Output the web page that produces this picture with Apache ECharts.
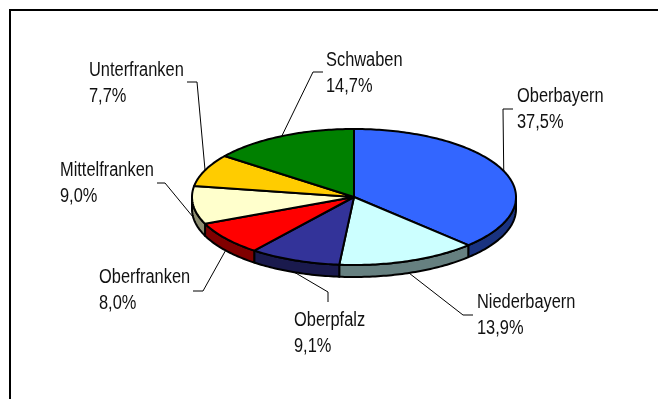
<!DOCTYPE html>
<html>
<head>
<meta charset="utf-8">
<script src="https://cdn.jsdelivr.net/npm/echarts@6/dist/echarts.min.js"></script>
<style>
  html, body { margin: 0; padding: 0; background: #ffffff; }
  #chart { width: 658px; height: 399px; }
</style>
</head>
<body>
<div id="chart"></div>
<script>
// Anteile der Regierungsbezirke (im Uhrzeigersinn ab 12 Uhr)
const regions = ['Oberbayern', 'Niederbayern', 'Oberpfalz', 'Oberfranken', 'Mittelfranken', 'Unterfranken', 'Schwaben'];
const shares = [37.5, 13.9, 9.1, 8.0, 9.0, 7.7, 14.7];
const topColors = ['#3366FF', '#CCFFFF', '#333399', '#FF0000', '#FFFFCC', '#FFCC00', '#008000'];
const sideColors = ['#1A3380', '#668080', '#1A1A4D', '#800000', '#8C8C70', '#806600', '#004000'];

// Beschriftung: linke Kante, Mitte der ersten Zeile
const labelPos = [[517, 96], [477, 302], [294, 320], [99, 277], [60, 170], [89, 70], [326, 60]];
// Führungslinien: Knickpunkt und Endpunkt
const leaderPts = [
  [[503, 109], [513, 109]],
  [[463, 315], [473, 315]],
  [[328, 292], [328, 302]],
  [[203, 291], [193, 291]],
  [[165, 183], [157, 183]],
  [[197, 82], [187, 82]],
  [[313, 72], [323, 72]]
];

// Geometrie der geneigten Torte
const CX = 354, CY = 197, RX = 162, RY = 68, DEPTH = 12;
// schmale Schrift: Liberation Sans horizontal gestaucht
const FONT = '20px "Liberation Sans", Arial, sans-serif';
const NARROW = 0.82;

const total = shares.reduce((a, b) => a + b, 0);
const startAngles = [];
let acc = 0;
shares.forEach(v => { startAngles.push(acc / total * 360); acc += v; });

function edge(deg, dy) {
  const r = deg * Math.PI / 180;
  return [CX + RX * Math.sin(r), CY - RY * Math.cos(r) + (dy || 0)];
}
function arc(a0, a1, dy) {
  const pts = [];
  const n = Math.max(2, Math.ceil(Math.abs(a1 - a0)));
  for (let k = 0; k <= n; k++) pts.push(edge(a0 + (a1 - a0) * k / n, dy));
  return pts;
}
function pct(v) { return v.toFixed(1).replace('.', ',') + '%'; }

const seriesData = shares.map((v, i) => ({ name: regions[i], value: v }));

function renderSide(params, api) {
  const i = params.dataIndex;
  const a0 = startAngles[i];
  const a1 = a0 + api.value(0) / total * 360;
  const s = Math.max(a0, 90), e = Math.min(a1, 270);
  if (e <= s) return null;
  const pts = arc(s, e, 0).concat(arc(e, s, DEPTH));
  return {
    type: 'polygon',
    shape: { points: pts },
    style: { fill: sideColors[i], stroke: '#000', lineWidth: 2, lineJoin: 'round' }
  };
}

function renderTop(params, api) {
  const i = params.dataIndex;
  const v = api.value(0);
  const a0 = startAngles[i];
  const a1 = a0 + v / total * 360;
  const mid = (a0 + a1) / 2;
  const front = Math.cos(mid * Math.PI / 180) < 0;
  const start = edge(mid, front ? DEPTH : 0);
  const lp = labelPos[i];
  return {
    type: 'group',
    children: [
      {
        type: 'polygon',
        shape: { points: [[CX, CY]].concat(arc(a0, a1, 0)) },
        style: { fill: topColors[i], stroke: '#000', lineWidth: 2, lineJoin: 'round' }
      },
      {
        type: 'polyline',
        shape: { points: [start, leaderPts[i][0], leaderPts[i][1]] },
        style: { fill: null, stroke: '#000', lineWidth: 1 }
      },
      {
        type: 'text',
        x: lp[0], y: lp[1] - 13,
        scaleX: NARROW, scaleY: 1,
        style: {
          x: 0, y: 0,
          text: regions[i] + '\n' + pct(v),
          font: FONT, fill: '#111', lineHeight: 26,
          align: 'left', verticalAlign: 'top'
        }
      }
    ]
  };
}

const chart = echarts.init(document.getElementById('chart'), null, { renderer: 'canvas' });
chart.setOption({
  animation: false,
  backgroundColor: '#ffffff',
  graphic: [{
    type: 'polyline',
    shape: { points: [[10, 400], [10, 10], [660, 10]] },
    style: { fill: null, stroke: '#000', lineWidth: 2 }
  }],
  series: [
    { type: 'custom', coordinateSystem: 'none', renderItem: renderSide, data: seriesData, silent: true },
    { type: 'custom', coordinateSystem: 'none', renderItem: renderTop, data: seriesData, silent: true }
  ]
});
</script>
</body>
</html>
